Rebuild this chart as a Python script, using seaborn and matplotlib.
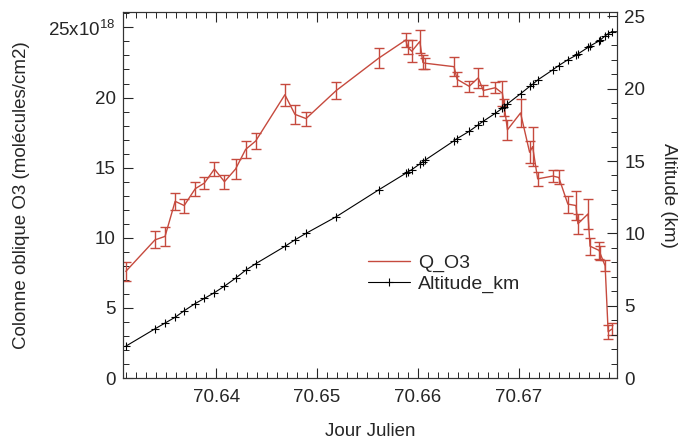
import matplotlib
matplotlib.use("Agg")
import matplotlib.pyplot as plt
import seaborn as sns
import pandas as pd
from matplotlib.ticker import MultipleLocator, FixedLocator, FixedFormatter

# ---- data ----
jour = [70.6310, 70.6339, 70.6349, 70.6359, 70.6368, 70.6379, 70.6388, 70.6398,
        70.6408, 70.6419, 70.6429, 70.6439, 70.6468, 70.6478, 70.6489, 70.6519,
        70.6561, 70.6588, 70.6590, 70.6594, 70.6602, 70.6605, 70.6607, 70.6636,
        70.6639, 70.6651, 70.6660, 70.6665, 70.6677, 70.6684, 70.6686, 70.6689,
        70.6702, 70.6711, 70.6714, 70.6719, 70.6734, 70.6740, 70.6749, 70.6757,
        70.6759, 70.6769, 70.6771, 70.6780, 70.6781, 70.6786, 70.6789, 70.6793]
q_o3 = [7.6, 9.85, 10.1, 12.6, 12.3, 13.5, 13.9, 14.9,
        14.0, 14.9, 16.3, 16.9, 20.2, 18.8, 18.5, 20.5,
        22.8, 24.1, 23.6, 23.3, 24.0, 22.5, 22.45, 22.2,
        21.3, 20.8, 21.4, 20.5, 20.7, 20.3, 19.3, 17.7,
        18.9, 16.1, 16.5, 14.2, 14.4, 14.3, 12.4, 12.3,
        11.0, 11.7, 9.4, 9.1, 8.9, 8.0, 3.3, 3.5]
q_err = [0.7, 0.6, 0.7, 0.6, 0.5, 0.5, 0.4, 0.5,
         0.5, 0.7, 0.6, 0.6, 0.8, 0.7, 0.5, 0.6,
         0.7, 0.5, 0.5, 0.8, 0.8, 0.5, 0.4, 0.7,
         0.5, 0.4, 0.7, 0.4, 0.4, 0.9, 0.6, 0.7,
         1.0, 0.8, 1.4, 0.5, 0.4, 0.5, 0.6, 1.0,
         0.7, 1.1, 0.6, 0.6, 0.5, 0.4, 0.5, 0.4]
altitude = [2.2, 3.4, 3.8, 4.2, 4.65, 5.15, 5.5, 5.9,
            6.35, 6.9, 7.45, 7.9, 9.1, 9.55, 10.0, 11.15,
            13.0, 14.15, 14.25, 14.4, 14.8, 14.95, 15.05, 16.4,
            16.55, 17.05, 17.5, 17.75, 18.3, 18.65, 18.75, 18.95,
            19.65, 20.15, 20.3, 20.6, 21.3, 21.6, 22.0, 22.3,
            22.4, 22.85, 22.95, 23.3, 23.35, 23.65, 23.8, 23.95]

left_ticks = [0, 5, 10, 15, 20, 25]
left_ticklabels = ["0", "5", "10", "15", "20", "25x10$^{18}$"]
right_ticks = [0, 5, 10, 15, 20, 25]
x_ticks = [70.64, 70.65, 70.66, 70.67]
x_ticklabels = ["70.64", "70.65", "70.66", "70.67"]

df = pd.DataFrame({"jour": jour, "q": q_o3, "err": q_err, "alt": altitude})

# ---- style ----
sns.set_style("ticks")
plt.rcParams["font.family"] = ["Liberation Sans", "DejaVu Sans"]
plt.rcParams["mathtext.fontset"] = "custom"
plt.rcParams["mathtext.rm"] = "Liberation Sans"

red = "#c64a3e"
fig = plt.figure(figsize=(6.82, 4.44), dpi=100)
ax = fig.add_axes([0.18, 0.1486, 0.725, 0.8244])
ax2 = ax.twinx()

# red series with error bars
ax.errorbar(df["jour"], df["q"], yerr=df["err"], fmt="none", ecolor=red,
            elinewidth=1.0, capsize=3.5, capthick=1.0, zorder=3)
sns.lineplot(data=df, x="jour", y="q", ax=ax, color=red, linewidth=1.0,
             estimator=None, sort=False, label="Q_O3", legend=False, zorder=4)

# black altitude series
sns.lineplot(data=df, x="jour", y="alt", ax=ax2, color="black", linewidth=0.8,
             marker="+", markersize=6, markeredgewidth=0.8,
             markeredgecolor="black", markerfacecolor="black",
             estimator=None, sort=False, label="Altitude_km", legend=False)

ax.set_xlim(70.6307, 70.6798)
ax.set_ylim(0, 26.1)
ax2.set_ylim(0, 25.3)

ax.xaxis.set_major_locator(FixedLocator(x_ticks))
ax.xaxis.set_major_formatter(FixedFormatter(x_ticklabels))
ax.xaxis.set_minor_locator(MultipleLocator(0.001))
ax.yaxis.set_major_locator(FixedLocator(left_ticks))
ax.yaxis.set_major_formatter(FixedFormatter(left_ticklabels))
ax.yaxis.set_minor_locator(MultipleLocator(1))
ax2.yaxis.set_major_locator(FixedLocator(right_ticks))
ax2.yaxis.set_minor_locator(MultipleLocator(1))

ax.tick_params(axis="both", which="major", direction="in", length=7, width=0.8,
               labelsize=13.5, top=True, pad=5)
ax.tick_params(axis="x", which="major", pad=8)
ax.tick_params(axis="both", which="minor", direction="in", length=4, width=0.7, top=True)
ax2.tick_params(axis="y", which="major", direction="in", length=7, width=0.8,
                labelsize=13.5, pad=5)
ax2.tick_params(axis="y", which="minor", direction="in", length=4, width=0.7)

for a in (ax, ax2):
    for s in a.spines.values():
        s.set_linewidth(0.8)
        s.set_color("#333333")

ax.set_xlabel("Jour Julien", fontsize=13.5, labelpad=12)
ax.set_ylabel("Colonne oblique O3 (molécules/cm2)", fontsize=13.5, labelpad=13)
ax2.set_ylabel("Altitude (km)", fontsize=13.5, rotation=270, labelpad=23)

h1, l1 = ax.get_legend_handles_labels()
h2, l2 = ax2.get_legend_handles_labels()
ax.legend(h1 + h2, l1 + l2, loc="center left", bbox_to_anchor=(0.46, 0.285),
          frameon=False, fontsize=14, handlelength=2.2, labelspacing=0.15,
          handletextpad=0.4)

fig.savefig("out.png", dpi=100)
